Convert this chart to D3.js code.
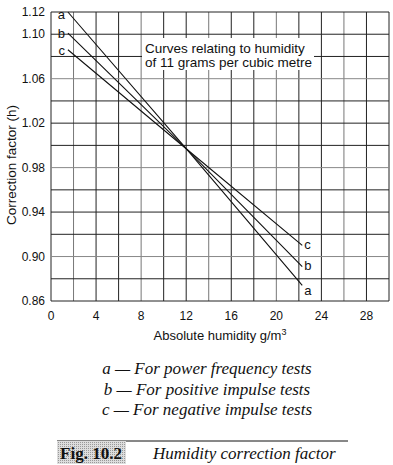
<!DOCTYPE html>
<html>
<head>
<meta charset="utf-8">
<script src="https://cdn.jsdelivr.net/npm/d3@7"></script>
<style>
body { margin: 0; background: #fff; }
svg text { font-family: "Liberation Sans", Arial, sans-serif; fill: #111; }
.serif { font-family: "Liberation Serif", "Times New Roman", serif; }
</style>
</head>
<body>
<div id="chart"></div>
<script>
// humidity (g/m3) vs correction factor h
var seriesNames = ["a", "b", "c"]
var humidity = [1.5, 12, 22.3]
var curveA = [1.12, 0.997, 0.874]
var curveB = [1.101, 0.997, 0.891]
var curveC = [1.086, 0.997, 0.910]
var xTicks = [0, 4, 8, 12, 16, 20, 24, 28]
var yTicks = [0.86, 0.90, 0.94, 0.98, 1.02, 1.06, 1.10, 1.12]
var legendLines = [
    "a \u2014 For power frequency tests",
    "b \u2014 For positive impulse tests",
    "c \u2014 For negative impulse tests"
]

var width = 393
var height = 465
var margin = {left: 51, right: 4, top: 12, bottom: 164}

var svg = d3.select("#chart").append("svg")
    .attr("width", width)
    .attr("height", height)

var x = d3.scaleLinear().domain([0, 30]).range([margin.left, width - margin.right])
var y = d3.scaleLinear().domain([0.86, 1.12]).range([height - margin.bottom, margin.top])

// grid
var grid = svg.append("g")
grid.selectAll(".vg").data(d3.range(0, 31, 2)).enter().append("line")
    .attr("x1", d => x(d)).attr("x2", d => x(d))
    .attr("y1", y(0.86)).attr("y2", y(1.12))
    .attr("stroke", (d, i) => i % 3 == 1 ? "#777" : "#222")
    .attr("stroke-width", 1)
grid.selectAll(".hg").data(d3.range(0, 14).map(i => 0.86 + i * 0.02)).enter().append("line")
    .attr("y1", d => y(d)).attr("y2", d => y(d))
    .attr("x1", x(0)).attr("x2", x(30))
    .attr("stroke", (d, i) => i % 4 == 2 ? "#888" : "#222")
    .attr("stroke-width", 1)

// annotation box hides the grid
svg.append("rect")
    .attr("x", 142).attr("y", 38).attr("width", 172).attr("height", 32)
    .attr("fill", "#fff")
svg.append("text").attr("x", 145).attr("y", 53).style("font-size", "13.5px")
    .text("Curves relating to humidity")
svg.append("text").attr("x", 145).attr("y", 67).style("font-size", "13.5px")
    .text("of 11 grams per cubic metre")

// curves
var curves = [curveA, curveB, curveC]
var line = d3.line().x((d, i) => x(humidity[i])).y(d => y(d))
svg.selectAll(".curve").data(curves).enter().append("path")
    .attr("d", d => line(d))
    .attr("fill", "none")
    .attr("stroke", "#111")
    .attr("stroke-width", 1.1)

// curve labels at both ends
seriesNames.forEach(function(name, i) {
    var c = curves[i]
    svg.append("text")
        .attr("x", x(humidity[0]) - 3)
        .attr("y", y(c[0]) + (i == 0 ? 7 : 5))
        .attr("text-anchor", "end")
        .style("font-size", "13px")
        .text(name)
    svg.append("text")
        .attr("x", x(humidity[2]) + 2)
        .attr("y", y(c[2]) + [10, 3, 4][i])
        .style("font-size", "13px")
        .text(name)
})

// axes labels
svg.selectAll(".yt").data(yTicks).enter().append("text")
    .attr("x", 45)
    .attr("y", d => y(d) + 4)
    .attr("text-anchor", "end")
    .style("font-size", "12px")
    .text(d => d.toFixed(2))
svg.selectAll(".xt").data(xTicks).enter().append("text")
    .attr("x", d => x(d))
    .attr("y", y(0.86) + 19)
    .attr("text-anchor", "middle")
    .style("font-size", "12px")
    .text(d => d)

var xt = svg.append("text")
    .attr("x", 220).attr("y", 340)
    .attr("text-anchor", "middle")
    .style("font-size", "13px")
    .text("Absolute humidity g/m")
xt.append("tspan").attr("dy", -5).style("font-size", "9px").text("3")

svg.append("text")
    .attr("transform", "translate(16,165) rotate(-90)")
    .attr("text-anchor", "middle")
    .style("font-size", "13.5px")
    .text("Correction factor (h)")

// legend
svg.selectAll(".leg").data(legendLines).enter().append("text")
    .attr("class", "serif")
    .attr("x", 207)
    .attr("y", (d, i) => 374 + i * 20.5)
    .attr("text-anchor", "middle")
    .style("font-size", "17px")
    .style("font-style", "italic")
    .text(d => d)

// caption
var pat = svg.append("defs").append("pattern")
    .attr("id", "dots").attr("width", 2).attr("height", 2)
    .attr("patternUnits", "userSpaceOnUse")
pat.append("rect").attr("width", 2).attr("height", 2).attr("fill", "#ddd")
pat.append("rect").attr("width", 1).attr("height", 1).attr("fill", "#999")
svg.append("line")
    .attr("x1", 57).attr("x2", 348).attr("y1", 441).attr("y2", 441)
    .attr("stroke", "#111").attr("stroke-width", 1)
svg.append("rect")
    .attr("x", 57).attr("y", 441).attr("width", 69).attr("height", 23)
    .attr("fill", "url(#dots)")
svg.append("text").attr("class", "serif")
    .attr("x", 91).attr("y", 459)
    .attr("text-anchor", "middle")
    .style("font-size", "17px").style("font-weight", "bold")
    .text("Fig. 10.2")
svg.append("text").attr("class", "serif")
    .attr("x", 153).attr("y", 459)
    .style("font-size", "17px").style("font-style", "italic")
    .text("Humidity correction factor")
</script>
</body>
</html>
